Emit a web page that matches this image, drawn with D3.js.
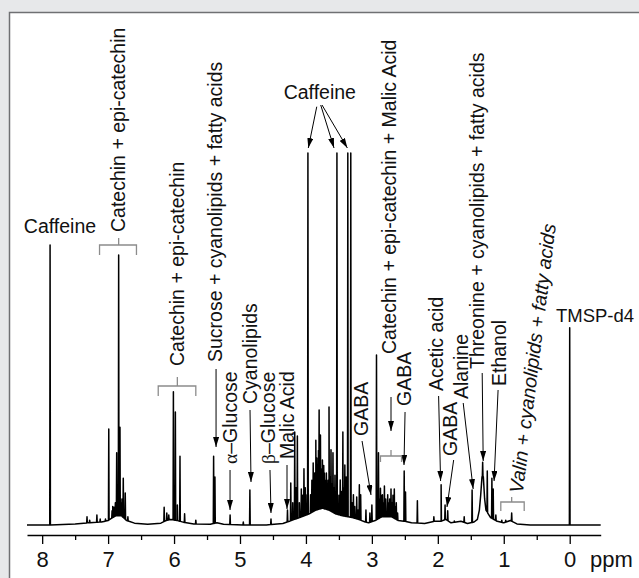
<!DOCTYPE html>
<meta charset="utf-8">
<script src="https://d3js.org/d3.v7.min.js"></script>
<style>
  body { margin: 0; background: #e7e8ea; overflow: hidden; }
  text { font-family: "Liberation Sans", Arial, sans-serif; fill: #111; }
</style>
<svg width="639" height="578"></svg>
<script>

    // ppm axis
    const tickValues = [8, 7, 6, 5, 4, 3, 2, 1, 0];
    const minorTickValues = [7.5, 6.5, 5.5, 4.5, 3.5, 2.5, 1.5, 0.5];

    // peak positions (ppm) and apex intensities (% of the tallest caffeine lines)
    const peakPpm = [7.88, 7.32, 7.28, 7.17, 7.12, 7.04, 6.99, 6.94, 6.93, 6.91, 6.89, 6.87, 6.86, 6.84, 6.82,
        6.80, 6.79, 6.77, 6.76, 6.74, 6.70,
        6.15, 6.11, 6.08, 6.01, 5.98, 5.95, 5.91, 5.84, 5.67, 5.40, 5.38, 5.15, 4.95, 4.85, 4.53,
        4.28, 4.23, 4.20, 4.17, 4.15, 4.13, 4.10, 4.07, 4.05, 4.03, 4.01, 4.00, 3.97, 3.93, 3.91,
        3.89, 3.87, 3.85, 3.835, 3.82, 3.81, 3.80, 3.79, 3.78, 3.765, 3.75, 3.74, 3.73, 3.72, 3.70,
        3.69, 3.68, 3.665, 3.65, 3.635, 3.62, 3.605, 3.59, 3.575, 3.56, 3.545, 3.53, 3.50, 3.48, 3.46,
        3.44, 3.43, 3.41, 3.40, 3.39, 3.38, 3.365, 3.32, 3.30, 3.28, 3.26, 3.23, 3.21,
        3.19, 3.17, 3.09, 3.03, 3.00, 2.93, 2.90, 2.88, 2.87, 2.86, 2.84, 2.83, 2.81, 2.79, 2.76,
        2.74, 2.73, 2.71, 2.69, 2.68, 2.66, 2.64, 2.63, 2.61, 2.51,
        2.49, 2.31, 2.06, 1.95, 1.89, 1.85, 1.75, 1.60, 1.48, 1.32, 1.25, 1.18, 1.16, 1.12, 1.03,
        0.97, 0.88, 0.00];
    const peakHeight = [75.3, 2.2, 1.3, 2.7, 1.6, 1.6, 25.8, 3.8, 5, 4.8, 6, 19.4, 8, 72.6, 26.3,
        6, 7, 12.6, 4, 8.6, 2.2,
        4.8, 3.2, 2.7, 35.8, 30.4, 5.4, 18.5, 3.0, 1.3, 18.5, 12.9, 2.7, 0.8, 9.4, 1.6,
        4.0, 11.3, 6, 25.0, 10, 23.9, 6, 9.7, 8, 15.1, 10, 8.1, 100, 8.1, 12,
        16.7, 14, 22.8, 18, 16.1, 20, 30.9, 19, 24.2, 15, 17.5, 13, 16, 14.0, 12,
        14, 10.8, 12, 31.7, 13, 20.2, 11, 19.4, 10, 13.4, 9, 100, 8, 12.1, 9,
        25.0, 10, 16.1, 9, 12.9, 8, 100, 100, 6, 8.1, 5, 7.5, 4,
        10.8, 8.1, 4.0, 3.2, 5.4, 45.7, 19.4, 7, 9.9, 8, 8.1, 6, 10.5, 7, 8.1,
        6, 7, 9.7, 6, 8, 9.7, 5, 6, 3.2, 14.5,
        8.9, 6.5, 2.2, 10.8, 5.4, 3.8, 1.1, 2.2, 9.4, 16.9, 14.5, 12.6, 9.7, 2.7, 1.3,
        1.3, 3.2, 53.0];

    // slowly varying baseline under the peaks
    const basePpm = [8.23, 7.9, 7.5, 7.3, 7.1, 7.0, 6.93, 6.88, 6.8, 6.72, 6.6, 6.4, 6.2, 6.12, 6.05,
        5.95, 5.85, 5.7, 5.45, 5.35, 5.25, 4.9, 4.6, 4.35, 4.25, 4.1, 3.95, 3.85, 3.75, 3.65,
        3.55, 3.45, 3.3, 3.2, 3.1, 3.05, 2.95, 2.85, 2.7, 2.6, 2.5, 2.4, 2.2, 2.05, 1.95,
        1.88, 1.8, 1.65, 1.55, 1.45, 1.40, 1.37, 1.35, 1.33, 1.31, 1.29, 1.27, 1.2, 1.1, 1.0,
        0.9, 0.8, 0.6, -0.47];
    const baseLevel = [0, 0, 0.3, 0.6, 0.8, 1.2, 2, 2.5, 2.5, 1.2, 0.5, 0.2, 0.5, 1.2, 1.5,
        1.2, 0.7, 0.3, 0.2, 0.6, 0.2, 0, 0, 0.4, 1, 2, 3, 4, 4.5, 4,
        3, 2.5, 2, 1.5, 0.8, 0.6, 1.2, 2.2, 2.2, 1.2, 1, 0.6, 0.4, 1, 1,
        1.5, 0.6, 1, 0.4, 0.8, 1.5, 4, 8, 13, 13, 7, 4, 2, 1, 0.6,
        1.2, 0.3, 0, 0];

    function nmr_spectrum() {
        const width = 639, height = 578;

        const svg = d3.select('svg')
            .attr('width', width)
            .attr('height', height);

        // white panel with frame on top/left
        svg.append('rect')
            .attr('x', 9).attr('y', 12)
            .attr('width', width).attr('height', height)
            .attr('fill', 'white');
        svg.append('path')
            .attr('d', `M9.5,${height} L9.5,12.5 L${width},12.5`)
            .attr('fill', 'none')
            .attr('stroke', '#6f7073')
            .attr('stroke-width', 1.5);

        const x = d3.scaleLinear()
            .domain([8.23, -0.47])
            .range([27, 600.7]);

        const y = d3.scaleLinear()
            .domain([0, 100])
            .range([525, 153]);

        const baseAt = d3.scaleLinear().domain(basePpm).range(baseLevel);

        // spectrum trace
        const dw = 0.005;
        let pts = basePpm.map((p, i) => [p, baseLevel[i]]);
        peakPpm.forEach((p, i) => {
            pts.push([p + dw, baseAt(p + dw)]);
            pts.push([p, peakHeight[i]]);
            pts.push([p - dw, baseAt(p - dw)]);
        });
        pts.sort((a, b) => b[0] - a[0]);

        const line = d3.line()
            .x(d => x(d[0]))
            .y(d => y(d[1]));

        svg.append('path')
            .datum(pts)
            .attr('d', line)
            .attr('fill', 'none')
            .attr('stroke', '#000')
            .attr('stroke-width', 1.5)
            .attr('stroke-linejoin', 'round');

        // axis
        const axisY = 535;
        const xAxis = d3.axisBottom(x)
            .tickValues(tickValues)
            .tickFormat(d3.format('d'))
            .tickSize(9)
            .tickSizeOuter(0)
            .tickPadding(7);
        const gAxis = svg.append('g')
            .attr('transform', `translate(0,${axisY})`)
            .call(xAxis);
        gAxis.select('.domain').attr('stroke-width', 1.4);
        gAxis.selectAll('.tick line').attr('stroke-width', 1.3);
        gAxis.selectAll('text')
            .style('font-family', '"Liberation Sans", Arial, sans-serif')
            .style('font-size', '22px')
            .attr('fill', '#111');

        const minorAxis = d3.axisBottom(x)
            .tickValues(minorTickValues)
            .tickFormat('')
            .tickSize(5)
            .tickSizeOuter(0);
        const gMinor = svg.append('g')
            .attr('transform', `translate(0,${axisY})`)
            .call(minorAxis);
        gMinor.select('.domain').remove();
        gMinor.selectAll('.tick line').attr('stroke-width', 1.3);

        svg.append('text')
            .attr('x', 590).attr('y', 567)
            .style('font-size', '22px')
            .text('ppm');

        // arrowhead
        svg.append('defs').append('marker')
            .attr('id', 'arrow')
            .attr('markerUnits', 'userSpaceOnUse')
            .attr('viewBox', '0 0 10 6')
            .attr('markerWidth', 10).attr('markerHeight', 6)
            .attr('refX', 10).attr('refY', 3)
            .attr('orient', 'auto')
            .append('path')
            .attr('d', 'M0,0 L10,3 L0,6 z')
            .attr('fill', '#000');

        const fs = 19.5;

        // horizontal labels
        const hLabels = [
            {text: 'Caffeine', at: 7.73, y: 233, size: fs},
            {text: 'Caffeine', at: 3.79, y: 99, size: fs},
            {text: 'TMSP-d4', at: -0.384, y: 321.5, size: 18.5}
        ];
        svg.selectAll('.hlabel')
            .data(hLabels)
            .enter().append('text')
            .attr('class', 'hlabel')
            .attr('x', d => x(d.at))
            .attr('y', d => d.y)
            .attr('text-anchor', 'middle')
            .style('font-size', d => d.size + 'px')
            .text(d => d.text);

        // vertical labels: center ppm, bottom pixel
        const vLabels = [
            {parts: [['Catechin + epi-catechin']], at: 6.84, bottom: 232},
            {parts: [['Sucrose + cyanolipids + fatty acids']], at: 5.375, bottom: 362},
            {parts: [['Catechin + epi-catechin']], at: 5.95, bottom: 366},
            {parts: [['\u03b1', 'g'], ['\u2013Glucose']], at: 5.15, bottom: 464},
            {parts: [['Cyanolipids']], at: 4.848, bottom: 404},
            {parts: [['\u03b2', 'g'], ['\u2013Glucose']], at: 4.57, bottom: 464},
            {parts: [['Malic Acid']], at: 4.287, bottom: 459},
            {parts: [['Catechin + epi-catechin + Malic Acid']], at: 2.74, bottom: 354},
            {parts: [['GABA']], at: 3.157, bottom: 436},
            {parts: [['GABA']], at: 2.505, bottom: 406},
            {parts: [['Acetic acid']], at: 2.02, bottom: 391},
            {parts: [['GABA']], at: 1.815, bottom: 456},
            {parts: [['Alanine']], at: 1.641, bottom: 399},
            {parts: [['Threonine + cyanolipids + fatty acids']], at: 1.405, bottom: 369},
            {parts: [['Ethanol']], at: 1.069, bottom: 386},
            {parts: [['Valin + cyanolipids + fatty acids']], at: 0.814, bottom: 493, angle: -83, italic: true}
        ];
        const vt = svg.selectAll('.vlabel')
            .data(vLabels)
            .enter().append('text')
            .attr('class', 'vlabel')
            .attr('transform', d => `translate(${x(d.at)},${d.bottom}) rotate(${d.angle || -90})`)
            .attr('dy', '0.35em')
            .style('font-size', fs + 'px')
            .style('font-style', d => d.italic ? 'italic' : 'normal');
        vt.selectAll('tspan')
            .data(d => d.parts)
            .enter().append('tspan')
            .style('font-family', p => p[1] === 'g' ? '"Liberation Serif", "DejaVu Serif", serif' : null)
            .text(p => p[0]);

        // arrows: [ppm, px] -> [ppm, px]
        const arrows = [
            [[3.836, 106.7], [3.964, 148]],
            [[3.776, 105], [3.574, 148]],
            [[3.756, 105], [3.372, 148]],
            [[5.363, 369], [5.363, 447]],
            [[5.151, 470], [5.151, 510]],
            [[4.848, 410], [4.833, 482]],
            [[4.545, 470], [4.53, 513]],
            [[4.287, 465], [4.287, 509]],
            [[2.71, 397], [2.71, 431]],
            [[3.149, 441], [3.013, 495]],
            [[2.497, 412], [2.513, 465]],
            [[1.988, 396], [1.958, 481]],
            [[1.76, 460], [1.861, 507]],
            [[1.615, 403], [1.464, 489]],
            [[1.327, 373], [1.312, 461]],
            [[1.086, 390], [1.147, 481]]
        ];
        svg.selectAll('.arrow')
            .data(arrows)
            .enter().append('line')
            .attr('class', 'arrow')
            .attr('x1', d => x(d[0][0])).attr('y1', d => d[0][1])
            .attr('x2', d => x(d[1][0])).attr('y2', d => d[1][1])
            .attr('stroke', '#000')
            .attr('stroke-width', 1)
            .attr('marker-end', 'url(#arrow)');

        // brackets: left ppm, right ppm, mid ppm, bar y, leg y, top y
        const brackets = [
            [7.13, 6.57, 6.84, 245, 255, 238],
            [6.24, 5.67, 5.95, 386, 396, 377],
            [2.87, 2.55, 2.71, 456, 462, 450],
            [1.045, 0.69, 0.88, 502, 511, 497]
        ];
        svg.selectAll('.bracket')
            .data(brackets)
            .enter().append('path')
            .attr('class', 'bracket')
            .attr('d', d => `M${x(d[0])},${d[4]} L${x(d[0])},${d[3]} L${x(d[1])},${d[3]} L${x(d[1])},${d[4]}` +
                ` M${x(d[2])},${d[3]} L${x(d[2])},${d[5]}`)
            .attr('fill', 'none')
            .attr('stroke', '#8c8c8c')
            .attr('stroke-width', 1.3);
    }

    nmr_spectrum();

</script>
